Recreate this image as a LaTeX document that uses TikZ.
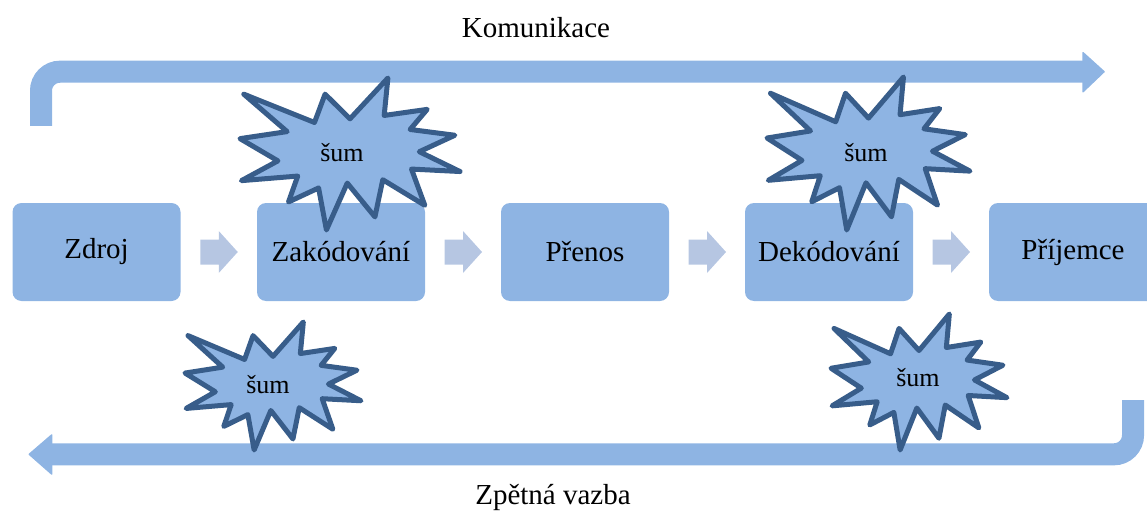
\documentclass[tikz,border=0pt]{standalone}
\usepackage{fontspec}
\setmainfont{Liberation Serif}
\usetikzlibrary{calc}
\definecolor{boxblue}{RGB}{142,180,227}
\definecolor{chevblue}{RGB}{182,198,226}
\definecolor{sealline}{RGB}{56,93,138}
\tikzset{
  stagebox/.style={fill=boxblue, rounded corners=9pt, minimum width=168pt, minimum height=98pt, inner sep=0pt, font=\fontsize{29}{34}\selectfont},
  chev/.style={fill=chevblue},
  bandline/.style={draw=boxblue, line width=22pt, rounded corners=19pt},
  bandhead/.style={fill=boxblue, draw=boxblue, line width=1.5pt, line join=round},
  sealshape/.style={fill=boxblue, draw=sealline, line width=5pt, line join=round},
  sealtext/.style={font=\fontsize{26}{30}\selectfont, inner sep=0pt},
  captiontext/.style={font=\fontsize{29}{34}\selectfont, inner sep=0pt}
}
\newcommand\drawseal[4]{%
  \begin{scope}[shift={(#1,#2)}, xscale=#3, yscale=#4]
    \draw[sealshape] (108,58) -- (145.22,0) -- (141.55,53.25) -- (183.80,44.57) -- (167.02,73.15) -- (210.97,81.37) -- (176.07,104.75) -- (216,132.90) -- (168.37,129.42) -- (181.45,180.95) -- (140.20,144.57) -- (132.47,197.37) -- (105.32,149.35) -- (84.85,216) -- (77.15,156.27) -- (47.62,176.17) -- (56.67,139.37) -- (1.35,145.87) -- (37.22,117.75) -- (0,86.15) -- (46.27,76.17) -- (3.70,22.95) -- (73.12,63.20) -- (83.52,22.95) -- cycle;
  \end{scope}}
\newcommand\drawchev[2]{%
  \fill[chev] ($(#1.east)!0.5!(#2.west)$) ++(-18.5,-12.5) -- ++(18.5,0) -- ++(0,-8.5) -- ++(19,21) -- ++(-19,21) -- ++(0,-8.5) -- ++(-18.5,0) -- cycle;}
\begin{document}
\begin{tikzpicture}[x=1pt, y=-1pt]
\useasboundingbox (0,0) rectangle (1147,513);
\clip (0,0) rectangle (1147,513);
% feedback bands
\coordinate (ka) at (41,126);
\coordinate (kb) at (41,71.7);
\coordinate (kc) at (1083,71.7);
\draw[bandline] (ka) -- (kb) -- (kc);
\fill[bandhead] (1083,52.7) -- (1104,71.7) -- (1083,91.7) -- cycle;
\coordinate (za) at (1133,400);
\coordinate (zb) at (1133,454.3);
\coordinate (zc) at (51.7,454.3);
\draw[bandline] (za) -- (zb) -- (zc);
\fill[bandhead] (51.7,435) -- (29.3,454.3) -- (51.7,474) -- cycle;
% stages
\node[stagebox] (zdroj) at (96.5,252) {Zdroj};
\node[stagebox] (zak) at (341,252) {Zakódování};
\node[stagebox] (pren) at (585,252) {Přenos};
\node[stagebox] (dek) at (829,252) {Dekódování};
\node[stagebox] (prij) at (1073,252) {Příjemce};
\drawchev{zdroj}{zak}
\drawchev{zak}{pren}
\drawchev{pren}{dek}
\drawchev{dek}{prij}
% noise
\drawseal{240}{78}{1.0185}{0.7037}
\node[sealtext] (sum1) at (342,153) {šum};
\drawseal{767}{77}{0.9398}{0.7083}
\node[sealtext] (sum2) at (866,153) {šum};
\drawseal{185}{322}{0.8148}{0.5926}
\node[sealtext] (sum3) at (268,385) {šum};
\drawseal{831}{314}{0.8148}{0.6296}
\node[sealtext] (sum4) at (918,378) {šum};
% captions
\node[captiontext] (kom) at (536,28) {Komunikace};
\node[captiontext] (zpet) at (553,497) {Zpětná vazba};
\end{tikzpicture}
\end{document}
